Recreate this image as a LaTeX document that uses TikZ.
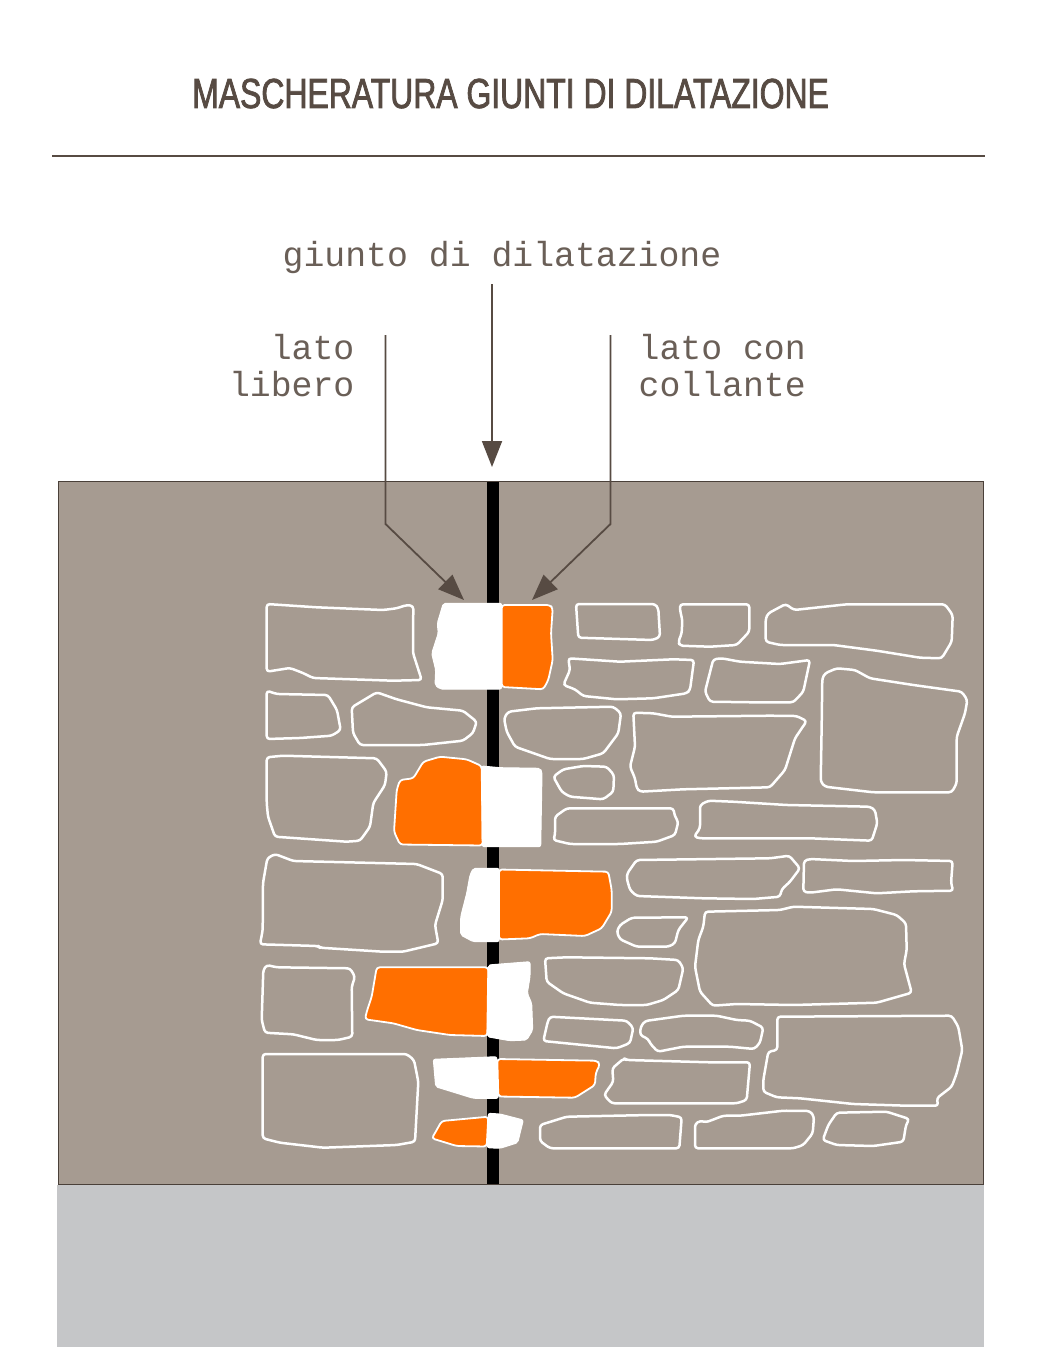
\documentclass[tikz,border=0pt]{standalone}
\usepackage{fontspec}
\usetikzlibrary{arrows.meta}
\newfontfamily\titlefont[FakeStretch=0.76,FakeBold=1.8]{Liberation Sans}
\newfontfamily\labelfont{Liberation Mono}
\definecolor{wall}{HTML}{A69B91}
\definecolor{ground}{HTML}{C5C6C8}
\definecolor{ink}{HTML}{574B43}
\definecolor{labelink}{HTML}{6A5F57}
\definecolor{glue}{HTML}{FF6F00}
\tikzset{
  stone/.style={draw=white,line width=2.5pt,rounded corners=3pt,line join=round},
  gluepart/.style={fill=glue,draw=white,line width=1.8pt,rounded corners=3pt,line join=round},
  freepart/.style={fill=white,draw=white,line width=1pt,rounded corners=2pt,line join=round},
  label/.style={text=labelink,inner sep=0pt,font=\fontsize{34.8}{37}\selectfont\labelfont},
  pointer/.style={draw=ink,line width=1.8pt,-{Stealth[length=26pt,width=20pt,inset=0pt]}}
}
\begin{document}
\begin{tikzpicture}[x=1pt,y=-1pt]
\useasboundingbox (0,0) rectangle (1042,1348);
\fill[white] (0,0) rectangle (1042,1348);
\node[inner sep=0pt,text=ink,anchor=base west,font=\fontsize{42}{42}\selectfont\titlefont] (title) at (192,108) {MASCHERATURA GIUNTI DI DILATAZIONE};
\draw[draw=ink,line width=2pt] (52,156) -- (985,156);
\fill[ground] (57,1185) rectangle (984,1346.5);
\filldraw[fill=wall,draw=ink!85!black,line width=1pt] (58,481.5) rectangle (983,1184.5);
\fill[black] (486.5,482) rectangle (499,1184);
% left column
\draw[stone] (266.7,604)--(316.7,607.3)--(383,610)--(396.7,608.3)--(406.7,605)--(413.3,606)--(413,653)--(421.7,680)--(393,680.7)--(313,678)--(303,673)--(290,668)--(266.7,671.7)--cycle;
\draw[stone] (266.7,690.7)--(276.7,694)--(328,695)--(337,710)--(340.7,730)--(331.7,735.7)--(300,738)--(266.7,739)--cycle;
\draw[stone] (351.7,707.3)--(376.7,692.3)--(396.7,699.3)--(426.7,707.3)--(463,710.7)--(476.7,721.7)--(473,733)--(463,740.7)--(423,745)--(360,745)--(353,733)--cycle;
\draw[stone] (266.7,757.3)--(283,755.7)--(376.7,758.3)--(386.7,771.7)--(385,785)--(373.3,803)--(370,826.7)--(360,840.7)--(346.7,841.7)--(275,836.7)--(268,816.7)--(266.7,803)--cycle;
\draw[stone] (260,944.3)--(262.7,930)--(263,883)--(267.3,858.3)--(275,854)--(293.3,861)--(416.7,864)--(442.7,874)--(442.7,900)--(435,925)--(438.3,943.3)--(403,951.7)--(383,951.7)--(320,947.7)--(318,946)--cycle;
\draw[stone] (263.3,970)--(266.7,965)--(276.7,967.3)--(350,968.3)--(355,976.7)--(351.7,986.7)--(352.3,1036.7)--(338,1040)--(316.7,1040)--(293.3,1034.3)--(265,1032.7)--(261.7,1020)--cycle;
\draw[stone] (262.7,1054)--(406.7,1054)--(414,1060)--(418.3,1081.7)--(415,1141.7)--(396.7,1145)--(323.3,1147.7)--(280,1142.7)--(262.7,1138.3)--cycle;
% covering stones
\filldraw[freepart] (443.3,603.3)--(501.7,603.3)--(501.7,689)--(440,689)--(435,685)--(435.7,670)--(431.7,653.3)--(438.3,633.3)--(437.3,623.3)--cycle;
\filldraw[gluepart] (501.7,605)--(550,605)--(552.7,608.3)--(551,633.3)--(552.7,660)--(548.3,680)--(543.3,689.3)--(501.7,687)--cycle;
\filldraw[gluepart] (394,831.7)--(396.7,790)--(400,780)--(413.3,778.3)--(423.3,761.7)--(440,756.7)--(466.7,759.3)--(481.7,766)--(482.7,845.5)--(400,844.5)--cycle;
\filldraw[freepart] (481.7,766)--(500,767.7)--(540,768.3)--(542,771.7)--(540.7,846.7)--(482.3,846.7)--cycle;
\filldraw[freepart] (473.3,868.3)--(499,868.3)--(499,941.7)--(473.3,941.7)--(460.7,935)--(460.7,916.7)--(466.7,893.3)--(470,875)--cycle;
\filldraw[gluepart] (499,869.5)--(608.3,871.7)--(611.7,890)--(611.7,911.7)--(601.7,928.3)--(585,936)--(540,934)--(530,938.3)--(499,939.5)--cycle;
\filldraw[gluepart] (376.7,967.3)--(488.3,967.3)--(487.3,1036)--(450,1035)--(416.7,1030)--(393.3,1023.3)--(365,1019.3)--(366.7,1011.7)--(371.7,996.7)--cycle;
\filldraw[freepart] (488.3,965)--(530,961.7)--(530,976.7)--(527.3,993.3)--(531.7,1003.3)--(532.7,1030)--(526.7,1040)--(510,1040.7)--(487.3,1036.7)--cycle;
\filldraw[freepart] (433.3,1059.3)--(496.7,1056.7)--(498.3,1098.3)--(473.3,1098.3)--(435.7,1086.7)--cycle;
\filldraw[gluepart] (497.3,1059)--(596.7,1060.7)--(600,1064)--(595.7,1073.3)--(595,1085)--(575,1097.7)--(498.3,1096.5)--cycle;
\filldraw[freepart] (488.3,1113.3)--(500,1114)--(523.3,1120)--(517.7,1142.7)--(500,1148.3)--(487.3,1147.7)--cycle;
\filldraw[gluepart] (441.7,1121)--(488.3,1116.7)--(486.7,1146.5)--(456.7,1146)--(431.7,1138.3)--(435,1133)--cycle;
% right column
\draw[stone] (576,604)--(620,604)--(655,604)--(658.3,608.3)--(660,636.7)--(653,640)--(620,639)--(578.3,637.7)--cycle;
\draw[stone] (680,604.3)--(749.3,604.3)--(749.3,631.7)--(736.7,645)--(710,646.7)--(680,645.7)--(678.3,641.7)--(681.7,633.3)--(682.3,620)--(680,610)--cycle;
\draw[stone] (765.7,618.3)--(768.3,613.3)--(785.7,604)--(794,610)--(846.7,604.3)--(945,604.3)--(952.7,615)--(951.7,641.7)--(941.7,658.3)--(920,657.7)--(876.7,650.7)--(833.3,645)--(780,645)--(765.7,641.7)--cycle;
\draw[stone] (568.3,658.3)--(570,670)--(563.3,685)--(575,689.3)--(583.3,696)--(616.7,699.3)--(653.3,698.3)--(686.7,693.3)--(690,690)--(694,660)--(673.3,659.3)--(620,661.7)--cycle;
\draw[stone] (713.3,659.3)--(721.7,658.3)--(740,661.7)--(780,664)--(810,660)--(803.3,691.7)--(793.3,702.3)--(753.3,702.3)--(710,701.7)--(705,691.7)--cycle;
\draw[stone] (822.3,678.3)--(825,673.3)--(836.7,668.3)--(855,670)--(870,678.3)--(913.3,685)--(961.7,691.7)--(967.3,700)--(965,713.3)--(956.7,736.7)--(956.7,783.3)--(951.7,792.3)--(873.3,792.3)--(825,786.7)--(820.7,781.7)--(821.7,723.3)--cycle;
\draw[stone] (504,718.3)--(508.3,711.7)--(536.7,708.3)--(613.3,706.7)--(621,713.3)--(618.3,733.3)--(603.3,753.3)--(583.3,759)--(550,759)--(515,746.7)--(506.7,731.7)--cycle;
\draw[stone] (633.3,712.7)--(653.3,713.3)--(671.7,716.7)--(770,715.7)--(796.7,716)--(806.7,721)--(795,738.3)--(785,770)--(770,787.3)--(683.3,789.3)--(640,791.7)--(636.7,788.3)--(635,778.3)--(630,766.7)--(635,746.7)--cycle;
\draw[stone] (553.3,776.7)--(563.3,769.3)--(583.3,766)--(606.7,766.7)--(614,775)--(613.3,791.7)--(603.3,799.3)--(570,796.7)--(561.7,791.7)--cycle;
\draw[stone] (555,816.7)--(566.7,808.3)--(673.3,808.3)--(675,816.7)--(678.3,821.7)--(675,835)--(656.7,841.7)--(620,844)--(570,844)--(553.3,840)--(555,835)--cycle;
\draw[stone] (700,805)--(708.3,800.7)--(733,801.7)--(786.7,805)--(870,806.7)--(875,810)--(877.3,823.3)--(871.7,840.7)--(810,838.3)--(700,838.3)--(694,836.7)--(700,828.3)--cycle;
\draw[stone] (636.7,860)--(770,858.3)--(789.3,855.7)--(800,868.3)--(790,881.7)--(781.7,889.3)--(780,896.7)--(753.3,899)--(703.3,898.3)--(636.7,896)--(630,890)--(626.7,878.3)--(627.3,873.3)--cycle;
\draw[stone] (804,860.7)--(810,859)--(853.3,861)--(903.3,860)--(952.7,861)--(951,883.3)--(953.3,890.7)--(913.3,891.3)--(876.7,893.3)--(836.7,889.3)--(810,892.7)--(803.3,891.7)--cycle;
\draw[stone] (688.3,917.3)--(678.3,930)--(675,943.3)--(668.3,946.7)--(636.7,946.7)--(620,939.3)--(616.7,931.7)--(620,925)--(631.7,917.7)--cycle;
\draw[stone] (705,911.7)--(780,910)--(793.3,906.7)--(873.3,909)--(896.7,915)--(906,923.3)--(906.7,950)--(904,964)--(911.7,992.7)--(876.7,1002.7)--(793.3,1005)--(736.7,1004)--(712.7,1005.7)--(700,991.7)--(695,966.7)--(698.3,940)--(703.3,926.7)--cycle;
\draw[stone] (545,958.3)--(566.7,957.3)--(650,958.3)--(678.3,960)--(683.3,968.3)--(678.3,990)--(663.3,1000)--(646.7,1005)--(620,1005)--(590,1002.7)--(563.3,993.3)--(546.7,981.7)--cycle;
\draw[stone] (550,1016.7)--(626.7,1020.7)--(633.3,1028)--(630,1043)--(616.7,1048.3)--(583.3,1045)--(543.3,1041)--(547.7,1021.7)--cycle;
\draw[stone] (640.7,1026.7)--(645,1021)--(683.3,1015.7)--(716.7,1015.7)--(736.7,1020)--(750,1020.7)--(763.3,1027.7)--(760,1042.7)--(754.3,1049)--(730,1046.7)--(683.3,1046.7)--(657.7,1051.7)--(650,1043.3)--(648.3,1039)--(640,1035)--cycle;
\draw[stone] (777.3,1016.7)--(951.7,1015.7)--(958.3,1026.7)--(962.3,1050)--(956.7,1073.3)--(951.7,1086.7)--(936.7,1098.3)--(938.3,1105.7)--(906.7,1105.7)--(853.3,1104)--(800,1098.3)--(776.7,1097.3)--(763.3,1091.7)--(763.3,1080)--(768.3,1051.7)--(777.3,1050)--cycle;
\draw[stone] (604,1095)--(613.3,1081.7)--(612.3,1068.3)--(624,1058.3)--(626.7,1060)--(710,1062.3)--(750,1062.3)--(746.7,1100)--(736.7,1103.3)--(611.7,1103.3)--cycle;
\draw[stone] (540,1125)--(566.7,1116.7)--(650,1115)--(670,1115)--(681.7,1117.3)--(679.3,1148.3)--(620,1148.3)--(550,1148.3)--(540,1141)--cycle;
\draw[stone] (695,1124)--(700,1120.7)--(706,1122.3)--(723.3,1115.7)--(740,1115.7)--(783.3,1110.7)--(810,1111)--(814,1116.7)--(812.7,1133.3)--(803.3,1145)--(793.3,1148.3)--(695,1148.3)--cycle;
\draw[stone] (836.7,1112.7)--(886.7,1111.7)--(909.3,1119)--(906,1125)--(903.3,1141.7)--(873.3,1146)--(836.7,1145)--(822.7,1140)--(828.3,1125)--cycle;
% labels
\node[label,anchor=base] (joint) at (502,266.5) {giunto di dilatazione};
\node[label,anchor=base east] (free1) at (354.5,359) {lato};
\node[label,anchor=base east] (free2) at (354.5,396) {libero};
\node[label,anchor=base west] (glue1) at (638.5,359) {lato con};
\node[label,anchor=base west] (glue2) at (638.5,396) {collante};
% pointers
\coordinate (jstart) at (492,284);
\coordinate (jtip) at (492,467);
\coordinate (lstart) at (385.5,335);
\coordinate (lbend) at (385.5,524);
\coordinate (ltip) at (464,600);
\coordinate (rstart) at (610.5,335);
\coordinate (rbend) at (610.5,524);
\coordinate (rtip) at (532,600);
\draw[pointer] (jstart) -- (jtip);
\draw[pointer] (lstart) -- (lbend) -- (ltip);
\draw[pointer] (rstart) -- (rbend) -- (rtip);
\end{tikzpicture}
\end{document}
